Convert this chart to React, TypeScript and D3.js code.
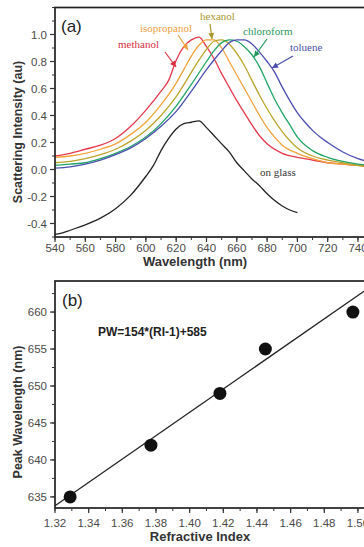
import React from "react";
import * as d3 from "d3";

// ---------- Panel (a) data ----------
const wlMethanol = [540,550,560,570,580,590,600,610,615,620,625,630,635,640,645,650,655,660,665,670,675,680,690,700,710,720,730,740,750];
const intMethanol = [0.10,0.12,0.15,0.18,0.23,0.32,0.44,0.58,0.66,0.81,0.91,0.96,0.98,0.91,0.82,0.71,0.61,0.51,0.42,0.33,0.25,0.19,0.12,0.09,0.07,0.05,0.04,0.03,0.02];

const wlIsopropanol = [540,550,560,570,580,590,600,610,620,625,630,635,640,645,650,655,660,665,670,675,680,685,690,700,710,720,730,740,750];
const intIsopropanol = [0.09,0.10,0.12,0.15,0.19,0.26,0.35,0.48,0.64,0.74,0.84,0.92,0.96,0.96,0.90,0.80,0.70,0.60,0.50,0.40,0.31,0.24,0.18,0.12,0.08,0.05,0.04,0.03,0.02];

const wlHexanol = [540,550,560,570,580,590,600,610,620,630,635,640,645,650,655,660,665,670,675,680,685,690,700,710,720,730,740,750];
const intHexanol = [0.05,0.06,0.08,0.11,0.15,0.21,0.29,0.40,0.54,0.72,0.81,0.89,0.95,0.96,0.93,0.86,0.77,0.66,0.55,0.45,0.36,0.28,0.16,0.10,0.07,0.05,0.03,0.02];

const wlChloroform = [540,550,560,570,580,590,600,610,620,630,640,645,650,655,660,665,670,675,680,685,690,695,700,710,720,730,740,750];
const intChloroform = [0.03,0.04,0.05,0.08,0.12,0.17,0.24,0.34,0.47,0.63,0.80,0.88,0.94,0.96,0.95,0.91,0.85,0.76,0.64,0.52,0.42,0.33,0.24,0.14,0.09,0.06,0.04,0.03];

const wlToluene = [540,550,560,570,580,590,600,610,620,630,640,650,655,660,665,670,675,680,685,690,695,700,705,710,715,720,730,740,750];
const intToluene = [0.01,0.02,0.04,0.07,0.11,0.16,0.23,0.32,0.43,0.58,0.74,0.88,0.94,0.96,0.96,0.93,0.87,0.80,0.72,0.61,0.51,0.42,0.35,0.29,0.24,0.20,0.13,0.08,0.05];

const wlGlass = [540,545,550,560,570,580,590,600,605,610,615,620,625,630,635,640,645,650,655,660,665,670,675,680,685,690,695,700];
const intGlass = [-0.48,-0.47,-0.45,-0.41,-0.36,-0.29,-0.19,-0.05,0.03,0.14,0.23,0.30,0.34,0.35,0.36,0.31,0.25,0.19,0.13,0.05,-0.01,-0.07,-0.12,-0.18,-0.23,-0.27,-0.30,-0.32];

const seriesNames = ["methanol","isopropanol","hexanol","chloroform","toluene","on glass"];
const xTicksA = [540,560,580,600,620,640,660,680,700,720,740,760];
const yTicksA = [-0.4,-0.2,0.0,0.2,0.4,0.6,0.8,1.0];

// ---------- Panel (b) data ----------
const refractiveIndex = [1.329,1.377,1.418,1.445,1.497];
const peakWavelength = [635,642,649,655,660];
const fitRI = [1.32,1.52];
const fitPW = [633.8,665.4];
const xTicksB = [1.32,1.34,1.36,1.38,1.40,1.42,1.44,1.46,1.48,1.50,1.52];
const yTicksB = [635,640,645,650,655,660];

const colors = ["#e5394b","#f4a33b","#b9a52a","#1fa565","#4b4fb0","#222222"];
const labelColors = ["#d8303f","#f0a040","#a69628","#1f9a5e","#4a4fa8","#333333"];

export default function App() {
  const W = 364, H = 547;
  const axisFont = "Arial, 'Liberation Sans', sans-serif";
  const serif = "'Times New Roman', 'Liberation Serif', serif";

  // Panel A scales
  const xA = d3.scaleLinear().domain([540, 760]).range([55, 388.3]);
  const yA = d3.scaleLinear().domain([-0.5, 1.2]).range([237, 7.5]);
  const lineA = d3.line<[number, number]>().x(d => xA(d[0])).y(d => yA(d[1])).curve(d3.curveMonotoneX);

  const allSeries: [number[], number[]][] = [
    [wlMethanol, intMethanol],
    [wlIsopropanol, intIsopropanol],
    [wlHexanol, intHexanol],
    [wlChloroform, intChloroform],
    [wlToluene, intToluene],
    [wlGlass, intGlass],
  ];

  // Panel B scales
  const xB = d3.scaleLinear().domain([1.32, 1.52]).range([55, 391.6]);
  const yB = d3.scaleLinear().domain([633.5, 664.2]).range([508, 281]);

  const minorA_x = d3.range(540, 761, 10);
  const minorA_y = d3.range(-0.5, 1.21, 0.1);
  const minorB_x = d3.range(1.32, 1.5201, 0.01);
  const minorB_y = d3.range(635, 664, 2.5);

  const tickColor = "#333";
  const labelGray = "#4a4a4a";

  // annotation layout (pixel positions)
  const ann = [
    { t: 0, x: 118, y: 48, a: [165, 52, 176, 67] },
    { t: 1, x: 140, y: 32, a: [178, 35, 188, 50] },
    { t: 2, x: 200, y: 20, a: [210, 24, 212, 39] },
    { t: 3, x: 243, y: 35, a: [267, 39, 254, 57] },
    { t: 4, x: 290, y: 51, a: [293, 56, 272, 68] },
    { t: 5, x: 260, y: 176, a: null },
  ];

  const arrowHead = (x1: number, y1: number, x2: number, y2: number) => {
    const ang = Math.atan2(y2 - y1, x2 - x1);
    const L = 6, w = 3;
    const bx = x2 - L * Math.cos(ang), by = y2 - L * Math.sin(ang);
    const px = -Math.sin(ang) * w, py = Math.cos(ang) * w;
    return `M${x2},${y2}L${bx + px},${by + py}L${bx - px},${by - py}Z`;
  };

  return (
    <div style={{ position: "absolute", left: 0, top: 0, width: W, height: H, overflow: "hidden", background: "#fff" }}>
      <svg width={W} height={H} style={{ display: "block" }}>
        <defs>
          <clipPath id="clipA"><rect x={55} y={7.5} width={333.3} height={229.5} /></clipPath>
          <clipPath id="clipB"><rect x={55} y={281} width={336.6} height={227} /></clipPath>
        </defs>

        {/* ---------- Panel A ---------- */}
        <g clipPath="url(#clipA)">
          {allSeries.map(([xs, ys], i) => (
            <path key={i} d={lineA(xs.map((x, j) => [x, ys[j]] as [number, number])) || ""} fill="none" stroke={colors[i]} strokeWidth={1.3} />
          ))}
        </g>
        <rect x={55} y={7.5} width={333.3} height={229.5} fill="none" stroke="#222" strokeWidth={1.7} />
        {minorA_x.map(v => (
          <line key={"mx" + v} x1={xA(v)} x2={xA(v)} y1={237} y2={240} stroke={tickColor} strokeWidth={1} />
        ))}
        {xTicksA.map(v => (
          <g key={"xa" + v}>
            <line x1={xA(v)} x2={xA(v)} y1={237} y2={242} stroke={tickColor} strokeWidth={1.2} />
            <text x={xA(v)} y={252} textAnchor="middle" fontFamily={axisFont} fontSize={11.5} fill={labelGray}>{v}</text>
          </g>
        ))}
        {minorA_y.map((v, i) => (
          <line key={"my" + i} x1={52} x2={55} y1={yA(v)} y2={yA(v)} stroke={tickColor} strokeWidth={1} />
        ))}
        {yTicksA.map(v => (
          <g key={"ya" + v}>
            <line x1={50} x2={55} y1={yA(v)} y2={yA(v)} stroke={tickColor} strokeWidth={1.2} />
            <text x={47} y={yA(v) + 4} textAnchor="end" fontFamily={axisFont} fontSize={11.5} fill={labelGray}>{v.toFixed(1)}</text>
          </g>
        ))}
        <text x={195} y={266} textAnchor="middle" fontFamily={axisFont} fontWeight="bold" fontSize={13} fill="#333">Wavelength (nm)</text>
        <text transform="translate(22,132) rotate(-90)" textAnchor="middle" fontFamily={axisFont} fontWeight="bold" fontSize={12.5} fill="#333">Scattering Intensity (au)</text>
        <text x={61} y={32} fontFamily={axisFont} fontSize={17} fill="#222">(a)</text>

        {ann.map(a => (
          <g key={"ann" + a.t}>
            <text x={a.x} y={a.y} fontFamily={serif} fontSize={11} fill={labelColors[a.t]}>{seriesNames[a.t]}</text>
            {a.a && (
              <g>
                <line x1={a.a[0]} y1={a.a[1]} x2={a.a[2]} y2={a.a[3]} stroke={labelColors[a.t]} strokeWidth={1.2} />
                <path d={arrowHead(a.a[0], a.a[1], a.a[2], a.a[3])} fill={labelColors[a.t]} />
              </g>
            )}
          </g>
        ))}

        {/* ---------- Panel B ---------- */}
        <g clipPath="url(#clipB)">
          <line x1={xB(fitRI[0])} y1={yB(fitPW[0])} x2={xB(fitRI[1])} y2={yB(fitPW[1])} stroke="#222" strokeWidth={1.3} />
          {refractiveIndex.map((r, i) => (
            <circle key={"pt" + i} cx={xB(r)} cy={yB(peakWavelength[i])} r={6.5} fill="#111" />
          ))}
        </g>
        <rect x={55} y={281} width={336.6} height={227} fill="none" stroke="#222" strokeWidth={1.7} />
        {minorB_x.map((v, i) => (
          <line key={"mbx" + i} x1={xB(v)} x2={xB(v)} y1={508} y2={511} stroke={tickColor} strokeWidth={1} />
        ))}
        {xTicksB.map(v => (
          <g key={"xb" + v}>
            <line x1={xB(v)} x2={xB(v)} y1={508} y2={513} stroke={tickColor} strokeWidth={1.2} />
            <text x={xB(v)} y={527} textAnchor="middle" fontFamily={axisFont} fontSize={11.5} fill={labelGray}>{v.toFixed(2)}</text>
          </g>
        ))}
        {minorB_y.map((v, i) => (
          <line key={"mby" + i} x1={52} x2={55} y1={yB(v)} y2={yB(v)} stroke={tickColor} strokeWidth={1} />
        ))}
        {yTicksB.map(v => (
          <g key={"yb" + v}>
            <line x1={50} x2={55} y1={yB(v)} y2={yB(v)} stroke={tickColor} strokeWidth={1.2} />
            <text x={47} y={yB(v) + 4} textAnchor="end" fontFamily={axisFont} fontSize={11.5} fill={labelGray}>{v}</text>
          </g>
        ))}
        <text x={200} y={541} textAnchor="middle" fontFamily={axisFont} fontWeight="bold" fontSize={13} fill="#333">Refractive Index</text>
        <text transform="translate(22,412) rotate(-90)" textAnchor="middle" fontFamily={axisFont} fontWeight="bold" fontSize={12.5} fill="#333">Peak Wavelength (nm)</text>
        <text x={62} y={306} fontFamily={axisFont} fontSize={17} fill="#222">(b)</text>
        <text x={98} y={336} fontFamily={axisFont} fontWeight="bold" fontSize={12} fill="#222">PW=154*(RI-1)+585</text>
      </svg>
    </div>
  );
}
